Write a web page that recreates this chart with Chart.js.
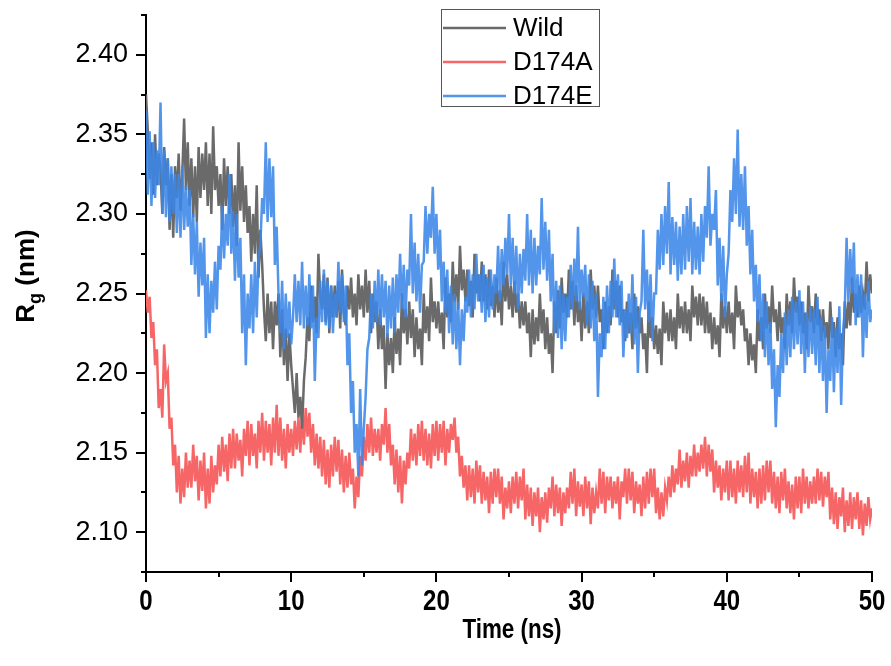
<!DOCTYPE html>
<html>
<head>
<meta charset="utf-8">
<title>Rg vs time</title>
<script src="https://cdn.jsdelivr.net/npm/chart.js@4.4.1/dist/chart.umd.min.js"></script>
<style>
    html, body { margin: 0; padding: 0; background: #fff; }
    #wrap { width: 891px; height: 666px; }
</style>
</head>
<body>
<div id="wrap"><canvas id="rg-chart" width="891" height="666"></canvas></div>
<script>
// datos (Rg en nm, un punto cada 0.125 ns)
const seriesNames = ['Wild', 'D174A', 'D174E'];
const timeStep = 0.125;

const wildRg = [
    2.375,
    2.352, 2.322, 2.345, 2.312, 2.350, 2.318, 2.338, 2.328,
    2.300, 2.342, 2.318, 2.335, 2.290, 2.325, 2.285, 2.330,
    2.310, 2.338, 2.302, 2.325, 2.360, 2.315, 2.345, 2.305,
    2.335, 2.298, 2.330, 2.295, 2.342, 2.310, 2.338, 2.315,
    2.345, 2.305, 2.338, 2.300, 2.355, 2.315, 2.330, 2.305,
    2.325, 2.290, 2.335, 2.305, 2.330, 2.300, 2.325, 2.292,
    2.318, 2.280, 2.345, 2.302, 2.330, 2.295, 2.318, 2.288,
    2.305, 2.270, 2.300, 2.275, 2.318, 2.260, 2.290, 2.268,
    2.240, 2.220, 2.250, 2.225, 2.245, 2.215, 2.245, 2.230,
    2.250, 2.210, 2.240, 2.205, 2.228, 2.195, 2.225, 2.205,
    2.190, 2.175, 2.200, 2.172, 2.185, 2.165, 2.195, 2.210,
    2.235, 2.220, 2.255, 2.232, 2.248, 2.225, 2.275, 2.248,
    2.240, 2.262, 2.232, 2.260, 2.225, 2.255, 2.235, 2.255,
    2.235, 2.258, 2.228, 2.265, 2.238, 2.230, 2.255, 2.240,
    2.260, 2.235, 2.250, 2.230, 2.262, 2.240, 2.255, 2.235,
    2.265, 2.238, 2.258, 2.225, 2.250, 2.232, 2.245, 2.215,
    2.240, 2.215, 2.230, 2.190, 2.225, 2.205, 2.222, 2.200,
    2.235, 2.212, 2.228, 2.205, 2.250, 2.225, 2.240, 2.218,
    2.245, 2.222, 2.240, 2.210, 2.235, 2.215, 2.228, 2.205,
    2.250, 2.225, 2.242, 2.220, 2.260, 2.232, 2.245, 2.228,
    2.245, 2.225, 2.238, 2.215, 2.260, 2.235, 2.250, 2.232,
    2.270, 2.245, 2.262, 2.240, 2.280, 2.252, 2.265, 2.245,
    2.265, 2.242, 2.258, 2.235, 2.275, 2.250, 2.262, 2.245,
    2.270, 2.245, 2.262, 2.240, 2.265, 2.242, 2.255, 2.235,
    2.260, 2.238, 2.252, 2.230, 2.270, 2.245, 2.262, 2.240,
    2.255, 2.235, 2.258, 2.238, 2.250, 2.228, 2.245, 2.230,
    2.245, 2.225, 2.238, 2.210, 2.240, 2.218, 2.235, 2.220,
    2.250, 2.225, 2.240, 2.215, 2.235, 2.212, 2.225, 2.200,
    2.245, 2.225, 2.252, 2.228, 2.260, 2.238, 2.250, 2.235,
    2.265, 2.240, 2.258, 2.230, 2.255, 2.232, 2.245, 2.220,
    2.250, 2.228, 2.245, 2.225, 2.265, 2.240, 2.255, 2.235,
    2.255, 2.232, 2.240, 2.215, 2.245, 2.225, 2.242, 2.230,
    2.265, 2.240, 2.258, 2.235, 2.255, 2.232, 2.240, 2.220,
    2.245, 2.225, 2.238, 2.215, 2.250, 2.228, 2.242, 2.225,
    2.235, 2.215, 2.225, 2.200, 2.245, 2.222, 2.235, 2.215,
    2.230, 2.212, 2.228, 2.205, 2.245, 2.225, 2.238, 2.220,
    2.240, 2.220, 2.235, 2.215, 2.250, 2.228, 2.242, 2.225,
    2.245, 2.225, 2.240, 2.220, 2.255, 2.235, 2.248, 2.230,
    2.250, 2.230, 2.248, 2.225, 2.245, 2.225, 2.238, 2.215,
    2.235, 2.218, 2.230, 2.210, 2.250, 2.228, 2.242, 2.225,
    2.245, 2.225, 2.238, 2.215, 2.255, 2.235, 2.245, 2.230,
    2.240, 2.220, 2.228, 2.205, 2.225, 2.208, 2.218, 2.200,
    2.240, 2.220, 2.235, 2.215, 2.250, 2.228, 2.242, 2.225,
    2.255, 2.232, 2.240, 2.220, 2.245, 2.225, 2.235, 2.215,
    2.250, 2.230, 2.245, 2.225, 2.260, 2.238, 2.248, 2.230,
    2.245, 2.225, 2.238, 2.215, 2.255, 2.232, 2.242, 2.225,
    2.250, 2.230, 2.240, 2.220, 2.240, 2.222, 2.232, 2.215,
    2.245, 2.222, 2.232, 2.210, 2.235, 2.215, 2.225, 2.205,
    2.245, 2.228, 2.245, 2.230, 2.260, 2.238, 2.250, 2.235,
    2.255, 2.238, 2.250, 2.240, 2.270, 2.245, 2.262, 2.250
];

const d174aRg = [
    2.252,
    2.238, 2.248, 2.222, 2.232, 2.205, 2.215, 2.178, 2.190,
    2.172, 2.218, 2.195, 2.200, 2.165, 2.172, 2.142, 2.155,
    2.125, 2.148, 2.118, 2.140, 2.122, 2.150, 2.128, 2.145,
    2.128, 2.155, 2.132, 2.148, 2.120, 2.145, 2.126, 2.150,
    2.115, 2.140, 2.118, 2.148, 2.125, 2.142, 2.130, 2.155,
    2.135, 2.160, 2.138, 2.155, 2.132, 2.162, 2.140, 2.165,
    2.140, 2.162, 2.145, 2.158, 2.135, 2.165, 2.148, 2.170,
    2.142, 2.168, 2.148, 2.162, 2.140, 2.170, 2.150, 2.175,
    2.145, 2.170, 2.150, 2.168, 2.142, 2.172, 2.150, 2.180,
    2.148, 2.172, 2.145, 2.165, 2.140, 2.168, 2.150, 2.165,
    2.148, 2.170, 2.152, 2.172, 2.150, 2.175, 2.155, 2.178,
    2.160, 2.175, 2.150, 2.168, 2.142, 2.162, 2.140, 2.160,
    2.135, 2.158, 2.130, 2.152, 2.128, 2.155, 2.135, 2.160,
    2.138, 2.158, 2.130, 2.152, 2.125, 2.148, 2.128, 2.150,
    2.130, 2.140, 2.115, 2.135, 2.122, 2.148, 2.135, 2.160,
    2.145, 2.168, 2.150, 2.172, 2.148, 2.165, 2.150, 2.165,
    2.145, 2.168, 2.155, 2.178, 2.150, 2.168, 2.142, 2.155,
    2.130, 2.152, 2.125, 2.148, 2.118, 2.145, 2.130, 2.150,
    2.140, 2.165, 2.145, 2.162, 2.142, 2.168, 2.148, 2.170,
    2.145, 2.165, 2.142, 2.162, 2.140, 2.168, 2.148, 2.170,
    2.145, 2.168, 2.150, 2.170, 2.142, 2.165, 2.150, 2.168,
    2.158, 2.172, 2.150, 2.160, 2.135, 2.148, 2.128, 2.142,
    2.120, 2.142, 2.122, 2.140, 2.118, 2.145, 2.125, 2.142,
    2.118, 2.138, 2.120, 2.135, 2.112, 2.138, 2.118, 2.140,
    2.122, 2.140, 2.118, 2.135, 2.108, 2.128, 2.115, 2.132,
    2.112, 2.135, 2.118, 2.138, 2.115, 2.135, 2.120, 2.140,
    2.108, 2.130, 2.110, 2.128, 2.104, 2.125, 2.110, 2.128,
    2.100, 2.122, 2.108, 2.125, 2.106, 2.128, 2.115, 2.135,
    2.110, 2.130, 2.112, 2.128, 2.104, 2.125, 2.112, 2.128,
    2.115, 2.138, 2.118, 2.140, 2.110, 2.132, 2.116, 2.130,
    2.110, 2.135, 2.115, 2.132, 2.105, 2.128, 2.112, 2.125,
    2.115, 2.140, 2.118, 2.138, 2.112, 2.135, 2.120, 2.135,
    2.115, 2.132, 2.118, 2.135, 2.108, 2.132, 2.122, 2.140,
    2.118, 2.140, 2.120, 2.138, 2.112, 2.132, 2.118, 2.130,
    2.110, 2.135, 2.115, 2.138, 2.118, 2.140, 2.122, 2.140,
    2.112, 2.128, 2.108, 2.125, 2.110, 2.128, 2.120, 2.135,
    2.122, 2.142, 2.125, 2.140, 2.130, 2.152, 2.128, 2.145,
    2.132, 2.150, 2.128, 2.148, 2.135, 2.155, 2.135, 2.150,
    2.138, 2.155, 2.140, 2.160, 2.135, 2.155, 2.138, 2.152,
    2.125, 2.145, 2.128, 2.142, 2.120, 2.140, 2.125, 2.145,
    2.120, 2.145, 2.122, 2.140, 2.118, 2.145, 2.125, 2.142,
    2.122, 2.148, 2.125, 2.150, 2.118, 2.140, 2.122, 2.138,
    2.115, 2.140, 2.118, 2.142, 2.120, 2.145, 2.125, 2.145,
    2.118, 2.138, 2.115, 2.135, 2.112, 2.138, 2.120, 2.140,
    2.115, 2.132, 2.112, 2.130, 2.108, 2.135, 2.115, 2.135,
    2.112, 2.140, 2.118, 2.135, 2.115, 2.132, 2.118, 2.135,
    2.118, 2.140, 2.120, 2.138, 2.116, 2.135, 2.122, 2.138,
    2.108, 2.128, 2.105, 2.125, 2.102, 2.122, 2.110, 2.128,
    2.100, 2.120, 2.104, 2.125, 2.102, 2.122, 2.108, 2.125,
    2.102, 2.120, 2.098, 2.118, 2.104, 2.122, 2.108, 2.115
];

const d174eRg = [
    2.365,
    2.312, 2.352, 2.305, 2.345, 2.310, 2.340, 2.318, 2.370,
    2.300, 2.340, 2.298, 2.335, 2.295, 2.330, 2.300, 2.325,
    2.288, 2.325, 2.285, 2.330, 2.290, 2.318, 2.292, 2.315,
    2.268, 2.300, 2.262, 2.295, 2.248, 2.282, 2.255, 2.285,
    2.222, 2.262, 2.225, 2.258, 2.238, 2.270, 2.240, 2.280,
    2.265, 2.305, 2.272, 2.300, 2.280, 2.325, 2.275, 2.302,
    2.258, 2.300, 2.260, 2.285, 2.225, 2.262, 2.205, 2.250,
    2.228, 2.262, 2.225, 2.270, 2.235, 2.272, 2.280, 2.310,
    2.300, 2.345, 2.295, 2.335, 2.298, 2.330, 2.268, 2.292,
    2.250, 2.225, 2.258, 2.215, 2.250, 2.222, 2.245, 2.218,
    2.235, 2.262, 2.232, 2.258, 2.230, 2.270, 2.228, 2.255,
    2.230, 2.262, 2.228, 2.255, 2.195, 2.235, 2.222, 2.258,
    2.232, 2.265, 2.230, 2.258, 2.228, 2.255, 2.225, 2.250,
    2.235, 2.270, 2.238, 2.262, 2.232, 2.255, 2.205, 2.225,
    2.175, 2.195, 2.150, 2.168, 2.135, 2.190, 2.142, 2.165,
    2.185, 2.215, 2.222, 2.250, 2.228, 2.258, 2.232, 2.265,
    2.230, 2.262, 2.235, 2.258, 2.222, 2.255, 2.228, 2.260,
    2.225, 2.262, 2.238, 2.275, 2.240, 2.268, 2.235, 2.265,
    2.255, 2.300, 2.250, 2.282, 2.245, 2.275, 2.238, 2.268,
    2.270, 2.305, 2.275, 2.300, 2.285, 2.317, 2.275, 2.300,
    2.265, 2.290, 2.245, 2.270, 2.238, 2.265, 2.225, 2.255,
    2.218, 2.250, 2.215, 2.245, 2.205, 2.240, 2.220, 2.248,
    2.238, 2.265, 2.235, 2.262, 2.240, 2.275, 2.245, 2.262,
    2.238, 2.268, 2.232, 2.260, 2.235, 2.265, 2.240, 2.262,
    2.250, 2.280, 2.245, 2.278, 2.255, 2.285, 2.262, 2.300,
    2.255, 2.285, 2.250, 2.280, 2.240, 2.275, 2.250, 2.278,
    2.258, 2.300, 2.255, 2.290, 2.250, 2.285, 2.255, 2.280,
    2.262, 2.310, 2.265, 2.295, 2.258, 2.290, 2.245, 2.275,
    2.225, 2.258, 2.222, 2.255, 2.215, 2.250, 2.220, 2.248,
    2.235, 2.268, 2.240, 2.272, 2.245, 2.292, 2.240, 2.265,
    2.248, 2.268, 2.230, 2.262, 2.228, 2.258, 2.220, 2.250,
    2.185, 2.225, 2.210, 2.248, 2.215, 2.255, 2.225, 2.258,
    2.235, 2.272, 2.235, 2.262, 2.230, 2.258, 2.210, 2.240,
    2.222, 2.250, 2.225, 2.262, 2.218, 2.248, 2.200, 2.238,
    2.245, 2.290, 2.240, 2.265, 2.232, 2.262, 2.220, 2.250,
    2.250, 2.290, 2.265, 2.300, 2.268, 2.305, 2.275, 2.320,
    2.262, 2.298, 2.268, 2.295, 2.258, 2.292, 2.262, 2.300,
    2.265, 2.305, 2.270, 2.310, 2.262, 2.295, 2.265, 2.292,
    2.262, 2.300, 2.270, 2.305, 2.285, 2.330, 2.280, 2.300,
    2.290, 2.315, 2.255, 2.285, 2.245, 2.280, 2.235, 2.262,
    2.275, 2.315, 2.295, 2.335, 2.300, 2.353, 2.292, 2.325,
    2.290, 2.330, 2.280, 2.305, 2.262, 2.290, 2.245, 2.268,
    2.232, 2.262, 2.220, 2.250, 2.210, 2.245, 2.205, 2.232,
    2.190, 2.215, 2.166, 2.205, 2.185, 2.225, 2.200, 2.238,
    2.205, 2.240, 2.210, 2.248, 2.215, 2.245, 2.218, 2.252,
    2.212, 2.245, 2.200, 2.238, 2.210, 2.242, 2.212, 2.240,
    2.205, 2.248, 2.200, 2.235, 2.195, 2.230, 2.175, 2.215,
    2.195, 2.235, 2.188, 2.228, 2.200, 2.242, 2.180, 2.225,
    2.240, 2.285, 2.245, 2.278, 2.250, 2.282, 2.230, 2.262,
    2.235, 2.262, 2.210, 2.250, 2.222, 2.258, 2.232, 2.240
];

const xTicks = [0, 10, 20, 30, 40, 50];
const xMinorTicks = [5, 15, 25, 35, 45];
const yTicks = [2.10, 2.15, 2.20, 2.25, 2.30, 2.35, 2.40];
const yMinorTicks = [2.075, 2.125, 2.175, 2.225, 2.275, 2.325, 2.375, 2.425];
const xTitle = 'Time (ns)';

const timeNs = wildRg.map((_, i) => i * timeStep);

function toPoints(values) {
    return values.map((v, i) => ({ x: timeNs[i], y: v }));
}

const lineColors = ['#6a6a6a', '#f76666', 'rgba(58, 134, 232, 0.88)'];
const fontSans = "'Liberation Sans', Arial, sans-serif";

// texto en negrita "estrecha" (no hay Arial Narrow instalada)
function narrowText(ctx, text, x, y, size) {
    ctx.save();
    ctx.font = 'bold ' + size + 'px ' + fontSans;
    ctx.textAlign = 'center';
    ctx.textBaseline = 'middle';
    ctx.translate(x, y);
    ctx.scale(0.8, 1);
    ctx.fillText(text, 0, 0);
    ctx.restore();
}

// marcas de los ejes, etiquetas x, titulos y leyenda
const axisExtras = {
    id: 'axisExtras',
    afterDraw(chart) {
        const ctx = chart.ctx;
        const xs = chart.scales.x;
        const ys = chart.scales.y;
        const a = chart.chartArea;
        ctx.save();
        ctx.strokeStyle = '#000';
        ctx.lineWidth = 2;
        ctx.beginPath();
        xTicks.forEach(v => {
            const px = Math.round(xs.getPixelForValue(v));
            ctx.moveTo(px, a.bottom); ctx.lineTo(px, a.bottom + 10);
        });
        xMinorTicks.forEach(v => {
            const px = Math.round(xs.getPixelForValue(v));
            ctx.moveTo(px, a.bottom); ctx.lineTo(px, a.bottom + 5);
        });
        yTicks.forEach(v => {
            const py = Math.round(ys.getPixelForValue(v));
            ctx.moveTo(a.left, py); ctx.lineTo(a.left - 10, py);
        });
        yMinorTicks.forEach(v => {
            const py = Math.round(ys.getPixelForValue(v));
            ctx.moveTo(a.left, py); ctx.lineTo(a.left - 5, py);
        });
        ctx.stroke();
        ctx.fillStyle = '#000';
        xTicks.forEach(v => narrowText(ctx, String(v), xs.getPixelForValue(v), a.bottom + 30, 30));
        narrowText(ctx, xTitle, (a.left + a.right) / 2 + 3, 630, 28);

        // titulo eje y: R con subindice g
        ctx.translate(34, 276);
        ctx.rotate(-Math.PI / 2);
        ctx.textBaseline = 'alphabetic';
        const big = 'bold 26px ' + fontSans;
        const small = 'bold 18px ' + fontSans;
        ctx.font = big;
        const wR = ctx.measureText('R').width;
        const wRest = ctx.measureText(' (nm)').width;
        ctx.font = small;
        const wg = ctx.measureText('g').width;
        const x0 = -(wR + wg + wRest) / 2;
        ctx.font = big;
        ctx.fillText('R', x0, 0);
        ctx.font = small;
        ctx.fillText('g', x0 + wR, 7);
        ctx.font = big;
        ctx.fillText(' (nm)', x0 + wR + wg, 0);
        ctx.restore();

        // leyenda
        ctx.save();
        ctx.strokeStyle = '#555';
        ctx.lineWidth = 1;
        ctx.fillStyle = '#fff';
        ctx.fillRect(441, 9, 158, 97);
        ctx.strokeRect(441.5, 9.5, 158, 97);
        ctx.font = '26px ' + fontSans;
        ctx.textBaseline = 'middle';
        chart.data.datasets.forEach((ds, i) => {
            const ly = 28 + i * 34;
            ctx.strokeStyle = ds.borderColor;
            ctx.lineWidth = 2.5;
            ctx.beginPath();
            ctx.moveTo(443, ly); ctx.lineTo(506, ly);
            ctx.stroke();
            ctx.fillStyle = '#000';
            ctx.fillText(ds.label, 513, ly + 1);
        });
        ctx.restore();
    }
};

function crearGrafico() {
    const ctx = document.getElementById('rg-chart');
    new Chart(ctx, {
        type: 'line',
        data: {
            datasets: [
                { label: seriesNames[0], data: toPoints(wildRg), borderColor: lineColors[0], order: 2 },
                { label: seriesNames[1], data: toPoints(d174aRg), borderColor: lineColors[1], order: 3 },
                { label: seriesNames[2], data: toPoints(d174eRg), borderColor: lineColors[2], order: 1 }
            ]
        },
        options: {
            responsive: false,
            animation: false,
            datasets: { line: { borderWidth: 2.5, pointRadius: 0, tension: 0, fill: false } },
            layout: { padding: { top: 15, right: 19, left: 0, bottom: 0 } },
            plugins: { legend: { display: false }, tooltip: { enabled: false } },
            scales: {
                x: {
                    type: 'linear',
                    min: 0,
                    max: 50,
                    afterBuildTicks: s => { s.ticks = xTicks.map(v => ({ value: v })); },
                    afterFit: s => { s.height = 94; s.paddingLeft = 0; s.paddingRight = 0; },
                    grid: { display: true, drawOnChartArea: false, drawTicks: false },
                    border: { color: '#000', width: 2 },
                    ticks: { display: false }
                },
                y: {
                    min: 2.075,
                    max: 2.425,
                    afterBuildTicks: s => { s.ticks = yTicks.map(v => ({ value: v })); },
                    afterFit: s => { s.width = 146; s.paddingTop = 0; s.paddingBottom = 0; },
                    grid: { display: true, drawOnChartArea: false, drawTicks: false },
                    border: { color: '#000', width: 2 },
                    ticks: {
                        color: '#000',
                        padding: 18,
                        font: { family: fontSans, size: 27 },
                        callback: v => v.toFixed(2)
                    }
                }
            }
        },
        plugins: [axisExtras]
    });
}

crearGrafico();
</script>
</body>
</html>
